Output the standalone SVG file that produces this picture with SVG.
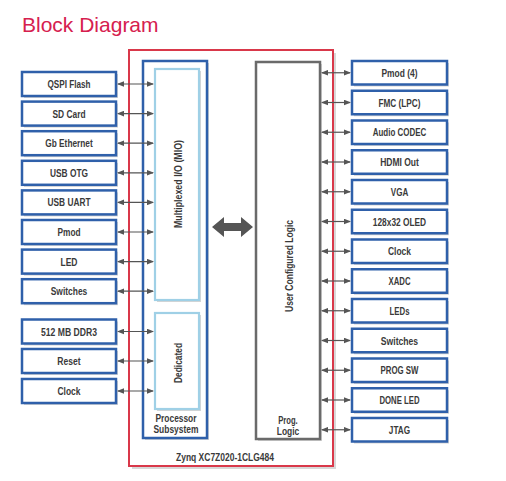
<svg xmlns="http://www.w3.org/2000/svg" width="506" height="481" viewBox="0 0 506 481">
<style>
.bg{fill:#ffffff}
.title{font-family:"Liberation Sans",Arial,sans-serif;font-size:21px;fill:#d6204e}
.lbl{font-family:"Liberation Sans",Arial,sans-serif;font-weight:bold;font-size:11px;fill:#3a3a3a;text-anchor:middle}
.box{fill:#ffffff;stroke:#2f60aa;stroke-width:2.5}
.shadow{fill:#d4d4d4}
.conn line{stroke:#555555;stroke-width:1.2;marker-start:url(#ah);marker-end:url(#ah)}
</style>
<defs>
<marker id="ah" markerUnits="userSpaceOnUse" markerWidth="7" markerHeight="6" refX="6" refY="3" orient="auto-start-reverse">
<path d="M0,0.2 L7,3 L0,5.8 Z" fill="#555555"/>
</marker>
</defs>
<rect class="bg" x="0" y="0" width="506" height="481"/>
<text class="title" x="22" y="32">Block Diagram</text>

<g id="zynq">
<rect x="132" y="53" width="204" height="416" fill="#d8d8d8"/>
<rect x="129" y="50" width="204" height="416" fill="#ffffff" stroke="#d9384a" stroke-width="2"/>
<text class="lbl" x="225" y="461" textLength="98" lengthAdjust="spacingAndGlyphs">Zynq XC7Z020-1CLG484</text>
</g>

<g id="ps">
<rect x="145" y="63" width="64" height="377" class="shadow"/>
<rect x="143" y="61" width="64" height="377" class="box"/>
<text class="lbl" x="176" y="422" textLength="41" lengthAdjust="spacingAndGlyphs">Processor</text>
<text class="lbl" x="176" y="433" textLength="45" lengthAdjust="spacingAndGlyphs">Subsystem</text>
</g>
<g id="mio">
<rect x="157" y="71" width="44" height="231" class="shadow"/>
<rect x="155" y="69" width="44" height="231" fill="#ffffff" stroke="#9fd0e6" stroke-width="2.2"/>
<text class="lbl" transform="translate(181.5,184) rotate(-90)" textLength="88" lengthAdjust="spacingAndGlyphs">Multiplexed I/O (MIO)</text>
</g>
<g id="dedicated">
<rect x="157" y="315" width="44" height="96" class="shadow"/>
<rect x="155" y="313" width="44" height="96" fill="#ffffff" stroke="#9fd0e6" stroke-width="2.2"/>
<text class="lbl" transform="translate(181.5,363) rotate(-90)" textLength="40" lengthAdjust="spacingAndGlyphs">Dedicated</text>
</g>
<g id="pl">
<rect x="258" y="64" width="64" height="377" class="shadow"/>
<rect x="256" y="62" width="64" height="377" fill="#ffffff" stroke="#6a6a6a" stroke-width="2.5"/>
<text class="lbl" transform="translate(293,266) rotate(-90)" textLength="92" lengthAdjust="spacingAndGlyphs">User Configured Logic</text>
<text class="lbl" x="288" y="424" textLength="19.5" lengthAdjust="spacingAndGlyphs">Prog.</text>
<text class="lbl" x="288" y="435" textLength="22.5" lengthAdjust="spacingAndGlyphs">Logic</text>
</g>

<g id="left-nodes">
<g id="n-qspi"><rect class="shadow" x="24" y="74" width="94" height="24"/><rect class="box" x="22" y="72" width="94" height="24"/><text class="lbl" x="69" y="88" textLength="43" lengthAdjust="spacingAndGlyphs">QSPI Flash</text></g>
<g id="n-sd"><rect class="shadow" x="24" y="103.6" width="94" height="24"/><rect class="box" x="22" y="101.6" width="94" height="24"/><text class="lbl" x="69" y="117.6" textLength="33" lengthAdjust="spacingAndGlyphs">SD Card</text></g>
<g id="n-eth"><rect class="shadow" x="24" y="133.2" width="94" height="24"/><rect class="box" x="22" y="131.2" width="94" height="24"/><text class="lbl" x="69" y="147.2" textLength="47.5" lengthAdjust="spacingAndGlyphs">Gb Ethernet</text></g>
<g id="n-otg"><rect class="shadow" x="24" y="162.8" width="94" height="24"/><rect class="box" x="22" y="160.8" width="94" height="24"/><text class="lbl" x="69" y="176.8" textLength="38" lengthAdjust="spacingAndGlyphs">USB OTG</text></g>
<g id="n-uart"><rect class="shadow" x="24" y="192.4" width="94" height="24"/><rect class="box" x="22" y="190.4" width="94" height="24"/><text class="lbl" x="69" y="206.4" textLength="43" lengthAdjust="spacingAndGlyphs">USB UART</text></g>
<g id="n-pmod"><rect class="shadow" x="24" y="222" width="94" height="24"/><rect class="box" x="22" y="220" width="94" height="24"/><text class="lbl" x="69" y="236" textLength="23" lengthAdjust="spacingAndGlyphs">Pmod</text></g>
<g id="n-led"><rect class="shadow" x="24" y="251.6" width="94" height="24"/><rect class="box" x="22" y="249.6" width="94" height="24"/><text class="lbl" x="69" y="265.6" textLength="17" lengthAdjust="spacingAndGlyphs">LED</text></g>
<g id="n-sw"><rect class="shadow" x="24" y="281.2" width="94" height="24"/><rect class="box" x="22" y="279.2" width="94" height="24"/><text class="lbl" x="69" y="295.2" textLength="36.5" lengthAdjust="spacingAndGlyphs">Switches</text></g>
<g id="n-ddr"><rect class="shadow" x="24" y="321.5" width="94" height="24"/><rect class="box" x="22" y="319.5" width="94" height="24"/><text class="lbl" x="69" y="335.5" textLength="56" lengthAdjust="spacingAndGlyphs">512 MB DDR3</text></g>
<g id="n-reset"><rect class="shadow" x="24" y="351" width="94" height="24"/><rect class="box" x="22" y="349" width="94" height="24"/><text class="lbl" x="69" y="365" textLength="23.3" lengthAdjust="spacingAndGlyphs">Reset</text></g>
<g id="n-clk-l"><rect class="shadow" x="24" y="381" width="94" height="24"/><rect class="box" x="22" y="379" width="94" height="24"/><text class="lbl" x="69" y="395" textLength="23" lengthAdjust="spacingAndGlyphs">Clock</text></g>
</g>

<g id="right-nodes">
<g id="r-pmod"><rect class="shadow" x="354" y="63" width="95" height="23.5"/><rect class="box" x="352" y="61" width="95" height="23.5"/><text class="lbl" x="399.5" y="76.8" textLength="36" lengthAdjust="spacingAndGlyphs">Pmod (4)</text></g>
<g id="r-fmc"><rect class="shadow" x="354" y="92.75" width="95" height="23.5"/><rect class="box" x="352" y="90.75" width="95" height="23.5"/><text class="lbl" x="399.5" y="106.5" textLength="42" lengthAdjust="spacingAndGlyphs">FMC (LPC)</text></g>
<g id="r-audio"><rect class="shadow" x="354" y="122.5" width="95" height="23.5"/><rect class="box" x="352" y="120.5" width="95" height="23.5"/><text class="lbl" x="399.5" y="136.3" textLength="53.5" lengthAdjust="spacingAndGlyphs">Audio CODEC</text></g>
<g id="r-hdmi"><rect class="shadow" x="354" y="152.25" width="95" height="23.5"/><rect class="box" x="352" y="150.25" width="95" height="23.5"/><text class="lbl" x="399.5" y="166" textLength="38.7" lengthAdjust="spacingAndGlyphs">HDMI Out</text></g>
<g id="r-vga"><rect class="shadow" x="354" y="182" width="95" height="23.5"/><rect class="box" x="352" y="180" width="95" height="23.5"/><text class="lbl" x="399.5" y="195.8" textLength="17.5" lengthAdjust="spacingAndGlyphs">VGA</text></g>
<g id="r-oled"><rect class="shadow" x="354" y="211.75" width="95" height="23.5"/><rect class="box" x="352" y="209.75" width="95" height="23.5"/><text class="lbl" x="399.5" y="225.5" textLength="53.3" lengthAdjust="spacingAndGlyphs">128x32 OLED</text></g>
<g id="r-clock"><rect class="shadow" x="354" y="241.5" width="95" height="23.5"/><rect class="box" x="352" y="239.5" width="95" height="23.5"/><text class="lbl" x="399.5" y="255.3" textLength="23" lengthAdjust="spacingAndGlyphs">Clock</text></g>
<g id="r-xadc"><rect class="shadow" x="354" y="271.25" width="95" height="23.5"/><rect class="box" x="352" y="269.25" width="95" height="23.5"/><text class="lbl" x="399.5" y="285" textLength="22" lengthAdjust="spacingAndGlyphs">XADC</text></g>
<g id="r-leds"><rect class="shadow" x="354" y="301" width="95" height="23.5"/><rect class="box" x="352" y="299" width="95" height="23.5"/><text class="lbl" x="399.5" y="314.8" textLength="20" lengthAdjust="spacingAndGlyphs">LEDs</text></g>
<g id="r-sw"><rect class="shadow" x="354" y="330.75" width="95" height="23.5"/><rect class="box" x="352" y="328.75" width="95" height="23.5"/><text class="lbl" x="399.5" y="344.5" textLength="37.3" lengthAdjust="spacingAndGlyphs">Switches</text></g>
<g id="r-prog"><rect class="shadow" x="354" y="360.5" width="95" height="23.5"/><rect class="box" x="352" y="358.5" width="95" height="23.5"/><text class="lbl" x="399.5" y="374.3" textLength="38" lengthAdjust="spacingAndGlyphs">PROG SW</text></g>
<g id="r-done"><rect class="shadow" x="354" y="390.25" width="95" height="23.5"/><rect class="box" x="352" y="388.25" width="95" height="23.5"/><text class="lbl" x="399.5" y="404" textLength="40" lengthAdjust="spacingAndGlyphs">DONE LED</text></g>
<g id="r-jtag"><rect class="shadow" x="354" y="420" width="95" height="23.5"/><rect class="box" x="352" y="418" width="95" height="23.5"/><text class="lbl" x="399.5" y="433.8" textLength="21.3" lengthAdjust="spacingAndGlyphs">JTAG</text></g>
</g>

<g id="connectors" class="conn">
<line x1="118" y1="84" x2="153" y2="84"/>
<line x1="118" y1="113.6" x2="153" y2="113.6"/>
<line x1="118" y1="143.2" x2="153" y2="143.2"/>
<line x1="118" y1="172.8" x2="153" y2="172.8"/>
<line x1="118" y1="202.4" x2="153" y2="202.4"/>
<line x1="118" y1="232" x2="153" y2="232"/>
<line x1="118" y1="261.6" x2="153" y2="261.6"/>
<line x1="118" y1="291.2" x2="153" y2="291.2"/>
<line x1="118" y1="331.5" x2="153" y2="331.5"/>
<line x1="118" y1="361" x2="153" y2="361"/>
<line x1="118" y1="391" x2="153" y2="391"/>
<line x1="322" y1="72.75" x2="350" y2="72.75"/>
<line x1="322" y1="102.5" x2="350" y2="102.5"/>
<line x1="322" y1="132.25" x2="350" y2="132.25"/>
<line x1="322" y1="162" x2="350" y2="162"/>
<line x1="322" y1="191.75" x2="350" y2="191.75"/>
<line x1="322" y1="221.5" x2="350" y2="221.5"/>
<line x1="322" y1="251.25" x2="350" y2="251.25"/>
<line x1="322" y1="281" x2="350" y2="281"/>
<line x1="322" y1="310.75" x2="350" y2="310.75"/>
<line x1="322" y1="340.5" x2="350" y2="340.5"/>
<line x1="322" y1="370.25" x2="350" y2="370.25"/>
<line x1="322" y1="400" x2="350" y2="400"/>
<line x1="322" y1="429.75" x2="350" y2="429.75"/>
<polygon points="212,227 224,217 224,223 241,223 241,217 253,227 241,237 241,231 224,231 224,237" fill="#555555" stroke="none"/>
</g>
</svg>
